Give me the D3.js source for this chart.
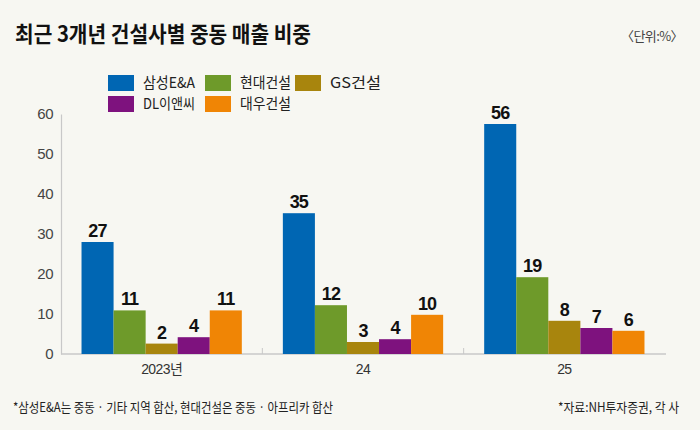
<!DOCTYPE html>
<html>
<head>
<meta charset="utf-8">
<script src="https://cdn.jsdelivr.net/npm/d3@7"></script>
<style>
  html, body { margin: 0; padding: 0; background: #f7f7f2; }
  svg { display: block; font-family: "Liberation Sans", "Noto Sans CJK KR", sans-serif; }
</style>
</head>
<body>
<div id="vis"></div>
<script>
const years = ["2023년", "24", "25"];
const companies = ["삼성E&A", "현대건설", "GS건설", "DL이앤씨", "대우건설"];
const colors = ["#0066b3", "#6e9a2a", "#a8850d", "#7e127e", "#f08505"];
// bar heights as drawn in the picture, and the printed labels
const samsung = [28, 35.2, 57.5];
const hyundai = [10.9, 12.2, 19.2];
const gs = [2.6, 3, 8.3];
const dl = [4.2, 3.7, 6.5];
const daewoo = [10.9, 9.8, 5.8];
const samsungLabels = ["27", "35", "56"];
const hyundaiLabels = ["11", "12", "19"];
const gsLabels = ["2", "3", "8"];
const dlLabels = ["4", "4", "7"];
const daewooLabels = ["11", "10", "6"];
const yTicks = [0, 10, 20, 30, 40, 50, 60];

const series = [samsung, hyundai, gs, dl, daewoo];
const seriesLabels = [samsungLabels, hyundaiLabels, gsLabels, dlLabels, daewooLabels];

const W = 700, H = 430;
const margin = { top: 114, right: 35, bottom: 76, left: 61 };
const width = W - margin.left - margin.right;
const height = H - margin.top - margin.bottom;
const kr = "Noto Sans CJK KR";
const num = "'Liberation Sans', 'Noto Sans CJK KR', sans-serif";

const svg = d3.select("#vis").append("svg")
  .attr("width", W).attr("height", H);

svg.append("rect").attr("width", W).attr("height", H).attr("fill", "#f7f7f2");

// Title and unit
svg.append("text")
  .attr("x", 15).attr("y", 42)
  .attr("font-family", kr)
  .attr("font-weight", 700)
  .attr("font-size", 22)
  .attr("fill", "#111")
  .attr("textLength", 296)
  .attr("lengthAdjust", "spacingAndGlyphs")
  .text("최근 3개년 건설사별 중동 매출 비중");

svg.append("text")
  .attr("x", 683).attr("y", 41)
  .attr("text-anchor", "end")
  .attr("font-family", kr).attr("font-size", 13).attr("fill", "#444")
  .attr("letter-spacing", -0.6)
  .text("〈단위:%〉");

// Legend
const legendPos = [[108, 75], [205, 75], [295, 75], [108, 96], [205, 96]];
const legendWidths = [52, 51, 51, 52, 51];
const legend = svg.append("g");
companies.forEach((c, i) => {
  const [lx, ly] = legendPos[i];
  legend.append("rect").attr("x", lx).attr("y", ly).attr("width", 26).attr("height", 16).attr("fill", colors[i]);
  legend.append("text")
    .attr("x", lx + 35).attr("y", ly + 13)
    .attr("font-family", kr)
    .attr("font-size", 15)
    .attr("fill", "#222")
    .attr("textLength", legendWidths[i])
    .attr("lengthAdjust", "spacingAndGlyphs")
    .text(c);
});

const g = svg.append("g").attr("transform", `translate(${margin.left},${margin.top})`);

const x0 = d3.scaleBand().domain(years).range([0, width]).padding(0);
const x1 = d3.scaleBand().domain(companies).range([0, x0.bandwidth()]).paddingInner(0).paddingOuter(0.64);
const y = d3.scaleLinear().domain([0, 60]).range([height, 0]);

// Y axis
const yAxis = g.append("g")
  .call(d3.axisLeft(y).tickValues(yTicks).tickSize(0).tickPadding(8));
yAxis.select(".domain").attr("stroke", "#c8c8c8").attr("stroke-width", 1.2);
yAxis.selectAll("text")
  .attr("font-family", num)
  .attr("font-size", 15).attr("fill", "#444")
  .attr("letter-spacing", -0.5);

// Baseline and group separators
g.append("line")
  .attr("x1", 0).attr("x2", width + 1)
  .attr("y1", y(0)).attr("y2", y(0))
  .attr("stroke", "#c8c8c8").attr("stroke-width", 1.5);
g.selectAll(".sep").data(years.slice(1)).join("line")
  .attr("x1", d => x0(d)).attr("x2", d => x0(d))
  .attr("y1", y(0) - 6).attr("y2", y(0))
  .attr("stroke", "#c8c8c8").attr("stroke-width", 1);

// Bars
const groups = g.selectAll(".grp").data(years).join("g")
  .attr("transform", d => `translate(${x0(d)},0)`);

groups.each(function(yr, yi) {
  const grp = d3.select(this);
  companies.forEach((c, ci) => {
    const v = series[ci][yi];
    grp.append("rect")
      .attr("x", x1(c)).attr("width", x1.bandwidth())
      .attr("y", y(v)).attr("height", y(0) - y(v))
      .attr("fill", colors[ci]);
    grp.append("text")
      .attr("x", x1(c) + x1.bandwidth() / 2)
      .attr("y", y(v) - 5)
      .attr("text-anchor", "middle")
      .attr("font-family", num)
      .attr("font-size", 18).attr("font-weight", 700)
      .attr("fill", "#111")
      .attr("letter-spacing", -0.8)
      .text(seriesLabels[ci][yi]);
  });
});

// X labels
g.selectAll(".xl").data(years).join("text")
  .attr("x", d => x0(d) + x0.bandwidth() / 2)
  .attr("y", y(0) + 20)
  .attr("text-anchor", "middle")
  .attr("font-family", num)
  .attr("font-size", 14).attr("fill", "#333")
  .attr("letter-spacing", -0.6)
  .text(d => d);

// Footnotes
svg.append("text")
  .attr("x", 13).attr("y", 412)
  .attr("font-family", kr)
  .attr("font-size", 13).attr("fill", "#222")
  .attr("textLength", 320)
  .attr("lengthAdjust", "spacingAndGlyphs")
  .text("*삼성E&A는 중동 · 기타 지역 합산, 현대건설은 중동 · 아프리카 합산");

svg.append("text")
  .attr("x", 679).attr("y", 412)
  .attr("text-anchor", "end")
  .attr("font-family", kr)
  .attr("font-size", 13).attr("fill", "#222")
  .attr("textLength", 121)
  .attr("lengthAdjust", "spacingAndGlyphs")
  .text("*자료:NH투자증권, 각 사");
</script>
</body>
</html>
